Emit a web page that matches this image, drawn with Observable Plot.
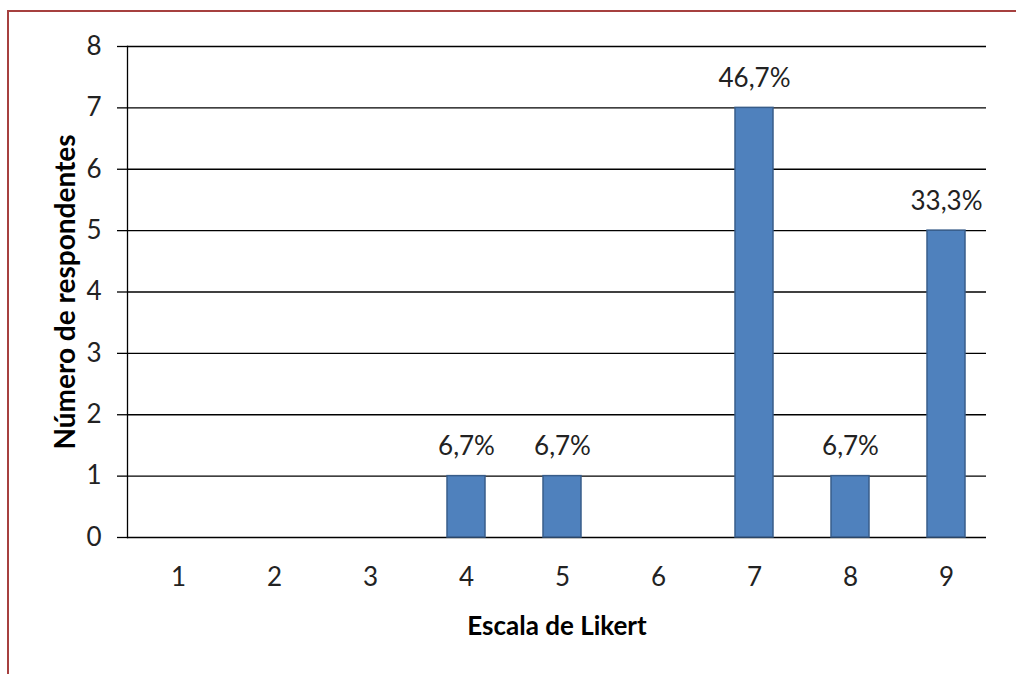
<!DOCTYPE html>
<html>
<head>
<meta charset="utf-8">
<script src="https://cdn.jsdelivr.net/npm/d3@7"></script>
<script src="https://cdn.jsdelivr.net/npm/@observablehq/plot@0.6"></script>
<style>
  html, body { margin: 0; padding: 0; background: #fff; overflow: hidden; }
  #wrap { position: relative; width: 1016px; height: 674px; }
  #border { position: absolute; left: 7px; top: 10px; width: 1100px; height: 800px;
            border-left: 2px solid #A6403F; border-top: 2px solid #A6403F; box-sizing: border-box; }
  #chart { position: absolute; left: 0; top: 0; }
</style>
</head>
<body>
<div id="wrap"><div id="border"></div><div id="chart"></div></div>
<script>
const categories = ["1", "2", "3", "4", "5", "6", "7", "8", "9"];
const counts = [0, 0, 0, 1, 1, 0, 7, 1, 5];
const pctLabels = ["", "", "", "6,7%", "6,7%", "", "46,7%", "6,7%", "33,3%"];
const yTicks = [0, 1, 2, 3, 4, 5, 6, 7, 8];

const data = categories.map((c, i) => ({cat: c, n: counts[i], label: pctLabels[i]}));
const shown = data.filter(d => d.n > 0);

const font = "Lato, 'Open Sans', sans-serif";

const chart = Plot.plot({
  width: 1016,
  height: 674,
  marginLeft: 127,
  marginRight: 30,
  marginTop: 46,
  marginBottom: 137,
  style: {fontFamily: font, fontSize: "26px", color: "#222", background: "transparent"},
  x: {domain: categories, paddingInner: 0.6, paddingOuter: 0.26, align: 0.6, label: null},
  y: {domain: [0, 8], label: null},
  marks: [
    Plot.gridY(yTicks, {stroke: "#000", strokeOpacity: 1, strokeWidth: 1.3}),
    Plot.frame({anchor: "left", stroke: "#000", strokeWidth: 1.3}),
    Plot.axisY(yTicks, {tickSize: 10, tickPadding: 16, tickFormat: d => String(d), stroke: "#000", strokeWidth: 1.3, fontSize: 26, fill: "#222", label: null}),
    Plot.axisX({tickSize: 0, tickPadding: 30, fontSize: 26, fill: "#222", label: null}),
    Plot.barY(shown, {x: "cat", y: "n", fill: "#4F81BD", stroke: "#385D8A", strokeWidth: 1.5}),
    Plot.text(shown, {x: "cat", y: "n", text: "label", lineAnchor: "bottom", dy: -21, fontSize: 26, fill: "#222"}),
    Plot.text(["Escala de Likert"], {frameAnchor: "bottom", dy: 97, fontWeight: "bold", fontSize: 26, fill: "#000"}),
    Plot.text(["Número de respondentes"], {frameAnchor: "left", textAnchor: "middle", dx: -61, rotate: -90, fontWeight: "bold", fontSize: 28, fill: "#000"})
  ]
});
document.getElementById("chart").appendChild(chart);
</script>
</body>
</html>
